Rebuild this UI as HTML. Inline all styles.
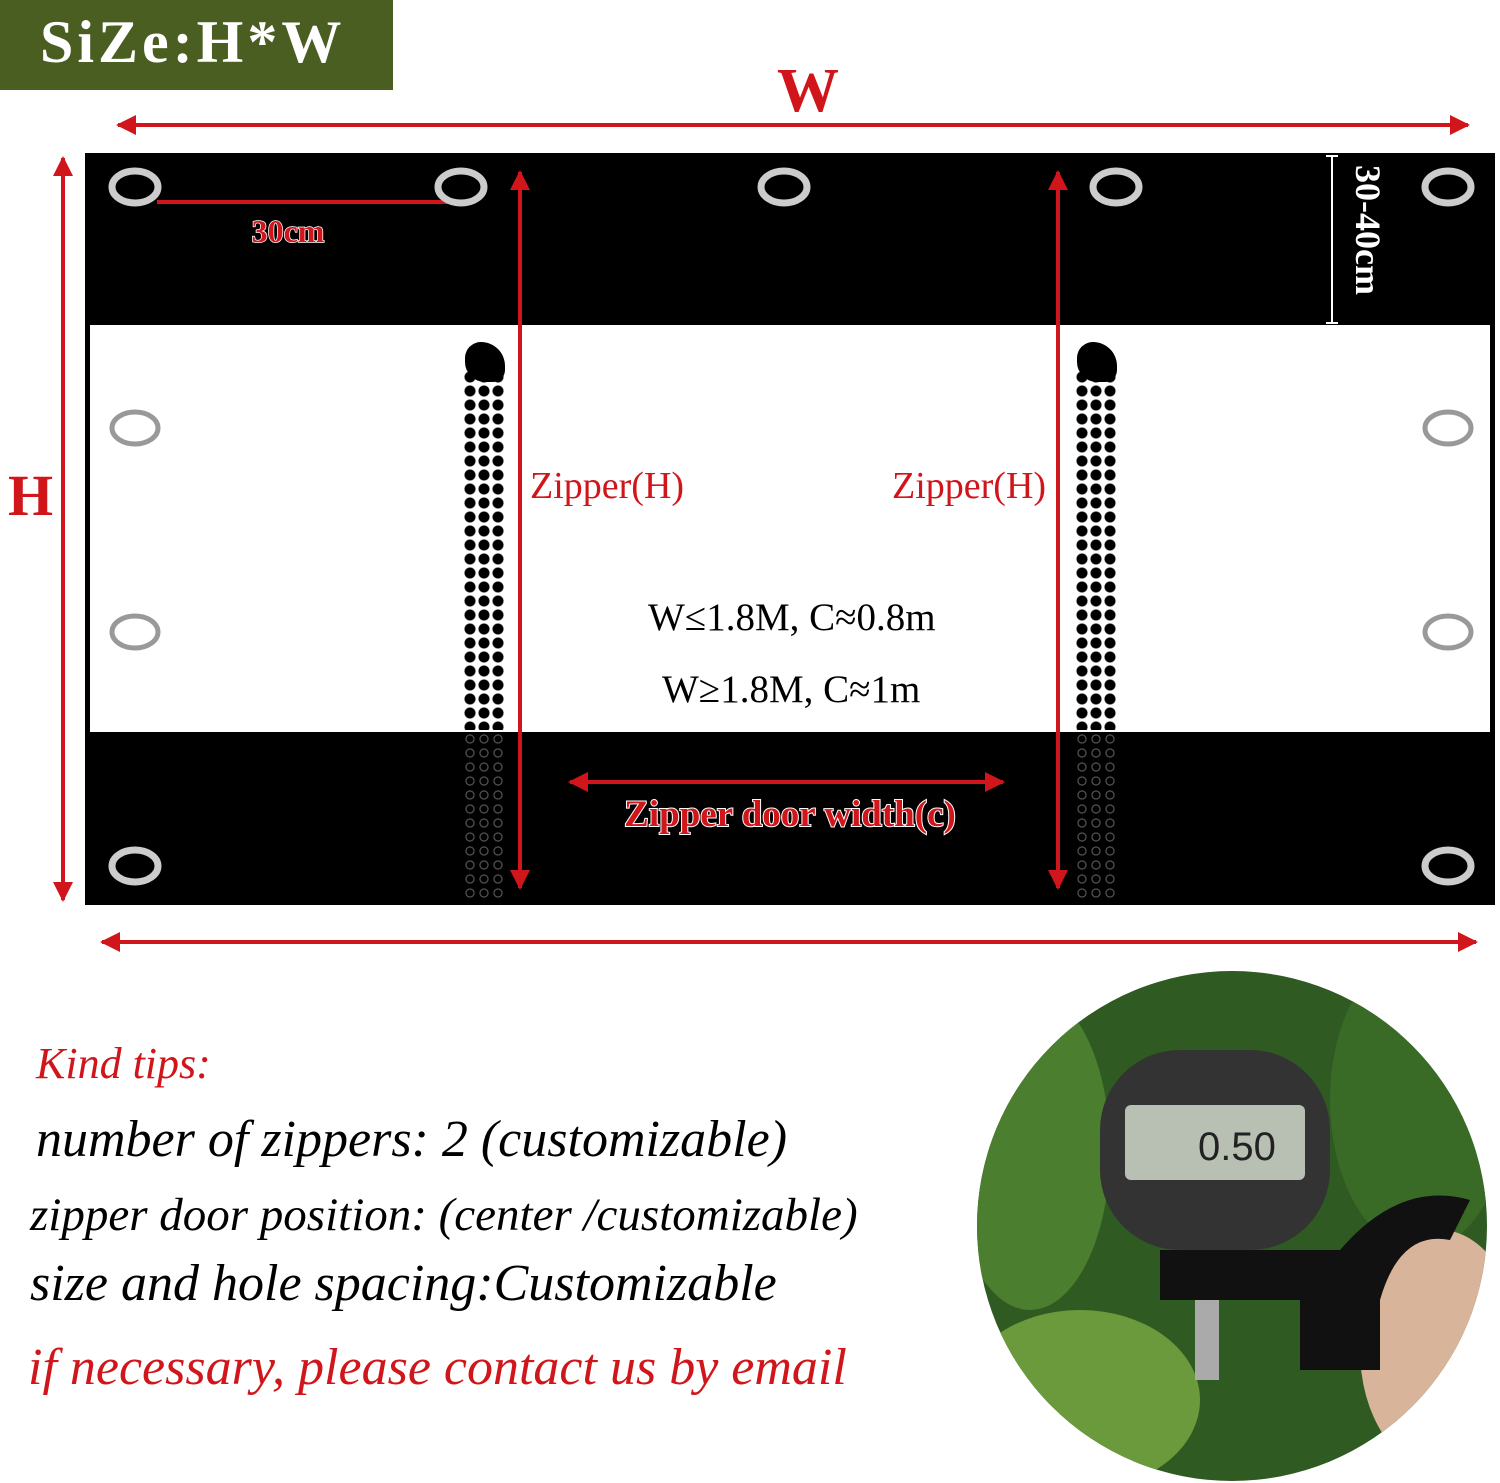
<!DOCTYPE html>
<html><head><meta charset="utf-8"><style>
body{margin:0;width:1500px;height:1483px;background:#fff;position:relative;overflow:hidden;font-family:"Liberation Serif",serif}
.a{position:absolute}
.red{color:#d0161b}
.zip{position:absolute;width:42px;background-image:radial-gradient(circle,#000 5px,transparent 6px);background-size:14px 14px}
</style></head><body>
<div class="a" style="left:0;top:0;width:393px;height:90px;background:#4a5e22"></div>
<div class="a" style="left:40px;top:8px;color:#fff;font-size:60px;font-weight:bold;letter-spacing:4px">SiZe:H*W</div>
<div class="a red" style="left:777px;top:56px;font-size:62px;font-weight:bold">W</div>
<div class="a red" style="left:8px;top:462px;font-size:58px;font-weight:bold">H</div>
<div class="a" style="left:85px;top:153px;width:1410px;height:752px;background:#000"></div>
<div class="a" style="left:90px;top:325px;width:1400px;height:407px;background:#fff"></div>
<div class="zip" style="left:463px;top:370px;height:360px"></div>
<div class="zip" style="left:1075px;top:370px;height:360px"></div>
<div class="zip" style="left:463px;top:732px;height:168px;background-image:radial-gradient(circle,transparent 3px,#666 4px,transparent 5px)"></div>
<div class="zip" style="left:1075px;top:732px;height:168px;background-image:radial-gradient(circle,transparent 3px,#666 4px,transparent 5px)"></div>
<div class="a" style="left:465px;top:342px;width:40px;height:40px;background:#000;border-radius:40% 60% 30% 50%"></div>
<div class="a" style="left:1077px;top:342px;width:40px;height:40px;background:#000;border-radius:40% 60% 30% 50%"></div>
<svg class="a" style="left:0;top:0" width="1500" height="1483">
<defs><marker id="ar" viewBox="0 0 10 10" refX="9" refY="5" markerWidth="5" markerHeight="5" orient="auto-start-reverse"><path d="M0,0L10,5L0,10z" fill="#d0161b"/></marker></defs>
<g stroke="#d0161b" stroke-width="4" marker-start="url(#ar)" marker-end="url(#ar)">
<line x1="118" y1="125" x2="1468" y2="125"/>
<line x1="63" y1="158" x2="63" y2="900"/>
<line x1="102" y1="942" x2="1476" y2="942"/>
<line x1="520" y1="172" x2="520" y2="888"/>
<line x1="1058" y1="172" x2="1058" y2="888"/>
<line x1="570" y1="782" x2="1003" y2="782"/>
</g>
<line x1="157" y1="202" x2="448" y2="202" stroke="#d0161b" stroke-width="4"/>
<line x1="1332" y1="156" x2="1332" y2="323" stroke="#fff" stroke-width="2"/>
<line x1="1326" y1="156" x2="1338" y2="156" stroke="#fff" stroke-width="2"/>
<line x1="1326" y1="323" x2="1338" y2="323" stroke="#fff" stroke-width="2"/>
<g fill="none" stroke="#ccc" stroke-width="7">
<ellipse cx="135" cy="187" rx="23" ry="16"/><ellipse cx="461" cy="187" rx="23" ry="16"/>
<ellipse cx="784" cy="187" rx="23" ry="16"/><ellipse cx="1116" cy="187" rx="23" ry="16"/>
<ellipse cx="1448" cy="187" rx="23" ry="16"/><ellipse cx="135" cy="866" rx="23" ry="16"/>
<ellipse cx="1448" cy="866" rx="23" ry="16"/>
</g>
<g fill="none" stroke="#999" stroke-width="5">
<ellipse cx="135" cy="428" rx="23" ry="16"/><ellipse cx="135" cy="632" rx="23" ry="16"/>
<ellipse cx="1448" cy="428" rx="23" ry="16"/><ellipse cx="1448" cy="632" rx="23" ry="16"/>
</g>
<text x="288" y="242" font-family="Liberation Serif" font-size="32" font-weight="bold" fill="#d0161b" stroke="#fff" stroke-width="1.5" paint-order="stroke" text-anchor="middle">30cm</text>
<text x="790" y="826" font-family="Liberation Serif" font-size="37" font-weight="bold" fill="#d0161b" stroke="#fff" stroke-width="2" paint-order="stroke" text-anchor="middle">Zipper door width(c)</text>
<text transform="translate(1356,165) rotate(90)" font-family="Liberation Serif" font-size="36" font-weight="bold" fill="#fff">30-40cm</text>
<clipPath id="c"><circle cx="1232" cy="1226" r="255"/></clipPath>
<g clip-path="url(#c)">
<rect x="970" y="970" width="530" height="513" fill="#2f5a22"/>
<ellipse cx="1030" cy="1150" rx="80" ry="160" fill="#4b7e2e"/>
<ellipse cx="1420" cy="1100" rx="90" ry="150" fill="#3a6b26"/>
<ellipse cx="1080" cy="1400" rx="120" ry="90" fill="#6a9a3c"/>
<ellipse cx="1440" cy="1350" rx="80" ry="120" fill="#d8b49a"/>
<rect x="1100" y="1050" width="230" height="200" rx="80" fill="#333"/>
<rect x="1125" y="1105" width="180" height="75" rx="6" fill="#b8c0b4"/>
<text x="1198" y="1160" font-family="Liberation Sans" font-size="40" fill="#222">0.50</text>
<path d="M1160 1250 H1340 Q1400 1180 1470 1200 L1450 1240 Q1400 1230 1380 1300 V1370 H1300 V1300 H1160z" fill="#111"/>
<rect x="1195" y="1300" width="24" height="80" fill="#aaa"/>
</g>
</svg>
<div class="a red" style="left:530px;top:464px;font-size:38px">Zipper(H)</div>
<div class="a red" style="left:892px;top:464px;font-size:38px">Zipper(H)</div>
<div class="a" style="left:648px;top:595px;font-size:39px">W≤1.8M, C≈0.8m</div>
<div class="a" style="left:662px;top:667px;font-size:39px">W≥1.8M, C≈1m</div>
<div class="a red" style="left:36px;top:1038px;font-size:44px;font-style:italic">Kind tips:</div>
<div class="a" style="left:36px;top:1110px;font-size:52px;font-style:italic">number of zippers: 2 (customizable)</div>
<div class="a" style="left:30px;top:1188px;font-size:47px;font-style:italic">zipper door position: (center /customizable)</div>
<div class="a" style="left:30px;top:1254px;font-size:52px;font-style:italic">size and hole spacing:Customizable</div>
<div class="a red" style="left:28px;top:1338px;font-size:52px;font-style:italic">if necessary, please contact us by email</div>
</body></html>
